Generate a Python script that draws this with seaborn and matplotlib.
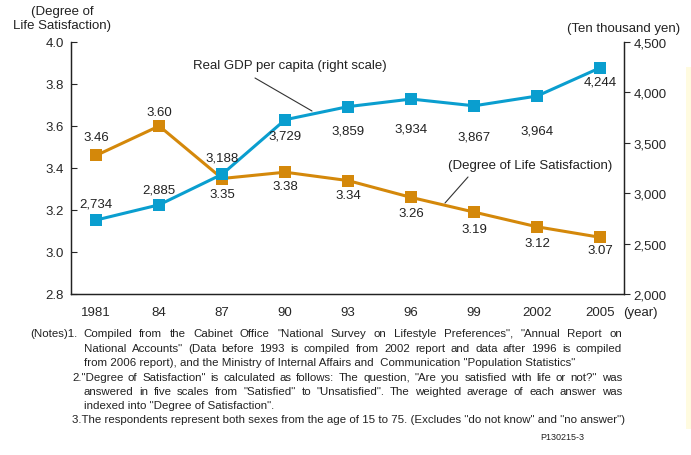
import pandas as pd
import numpy as np
import seaborn as sns
import matplotlib.pyplot as plt
from matplotlib.patches import Rectangle

years=['1981','84','87','90','93','96','99','2002','2005']
satisfaction=[3.46,3.60,3.35,3.38,3.34,3.26,3.19,3.12,3.07]
gdp=[2734,2885,3188,3729,3859,3934,3867,3964,4244]
sat_ticks=[2.8,3.0,3.2,3.4,3.6,3.8,4.0]
gdp_ticks=[2000,2500,3000,3500,4000,4500]

notes=[
    '(Notes)1.',
    'Compiled from the Cabinet Office "National Survey on Lifestyle Preferences", "Annual  Report on',
    'National Accounts" (Data before 1993 is compiled from 2002 report and data after 1996 is compiled',
    'from 2006 report), and the Ministry of Internal Affairs and  Communication "Population Statistics"',
    '2."Degree of Satisfaction" is calculated as follows: The question, "Are you satisfied with life or not?" was',
    'answered in five scales from "Satisfied" to "Unsatisfied". The weighted average of each answer was',
    'indexed into "Degree of Satisfaction".',
    '3.The respondents represent both sexes from the age of 15 to 75. (Excludes "do not know" and "no answer")',
]

orange='#D4880A'
blue='#0A9ECF'
W,H=691,456

sns.set_style('white')
plt.rcParams['font.family']=['Liberation Sans','DejaVu Sans']

df=pd.DataFrame({'year':years,'satisfaction':satisfaction,'gdp':gdp})

fig=plt.figure(figsize=(6.91,4.56),dpi=100)
ax=fig.add_axes([71/W,161/H,553/W,252/H])
ax2=ax.twinx()

sns.lineplot(data=df,x='year',y='satisfaction',ax=ax,color=orange,lw=2.2,
             marker='s',markersize=9,markeredgewidth=0,sort=False)
sns.lineplot(data=df,x='year',y='gdp',ax=ax2,color=blue,lw=2.2,
             marker='s',markersize=9,markeredgewidth=0,sort=False)

ax.set_xlim(-0.4,8.38)
ax.set_ylim(2.8,4.0)
ax2.set_ylim(2000,4500)
ax.set_yticks(sat_ticks)
ax.set_yticklabels([f'{v:.1f}' for v in sat_ticks],fontsize=9.5)
ax2.set_yticks(gdp_ticks)
ax2.set_yticklabels([f'{v:,}' for v in gdp_ticks],fontsize=9.5)
ax.set_xticks(range(len(years)))
ax.set_xticklabels(years,fontsize=9.5)
ax.set_xticks(np.arange(0.5,len(years)-0.5,1),minor=True)
ax.tick_params(axis='x',which='major',length=0,pad=9)
ax.tick_params(axis='x',which='minor',length=4,direction='in',width=0.8)
ax.tick_params(axis='y',length=4,direction='in',width=0.8,pad=5)
ax2.tick_params(axis='y',length=4,direction='out',width=0.8,pad=3)
ax.set_xlabel('')
ax.set_ylabel('')
ax2.set_ylabel('')
for a in (ax,ax2):
    a.spines['top'].set_visible(False)
    for s in ('left','right','bottom'):
        a.spines[s].set_color('#222222')
        a.spines[s].set_linewidth(0.9)

# data labels
sat_off=[(0,18),(0,14),(0,-16),(0,-14),(0,-14),(0,-16),(0,-17),(0,-16),(0,-13)]
gdp_off=[(0,17),(0,15),(0,17),(0,-16),(0,-24),(0,-29),(0,-31),(0,-34),(0,-14)]
for i,(v,o) in enumerate(zip(satisfaction,sat_off)):
    ax.annotate(f'{v:.2f}',(i,v),xytext=o,textcoords='offset pixels',
                ha='center',va='center',fontsize=9.5,color='#222222')
for i,(v,o) in enumerate(zip(gdp,gdp_off)):
    ax2.annotate(f'{v:,}',(i,v),xytext=o,textcoords='offset pixels',
                 ha='center',va='center',fontsize=9.5,color='#222222')

# series callouts
fig.text(290/W,1-66/H,'Real GDP per capita (right scale)',ha='center',va='center',fontsize=9.5,color='#222222')
fig.add_artist(plt.Line2D([255/W,312/W],[1-79/H,1-112/H],color='#333333',lw=0.8))
fig.text(530/W,1-166/H,'(Degree of Life Satisfaction)',ha='center',va='center',fontsize=9.5,color='#222222')
fig.add_artist(plt.Line2D([468/W,445/W],[1-178/H,1-204/H],color='#333333',lw=0.8))

# axis titles
fig.text(62/W,1-12/H,'(Degree of',ha='center',va='center',fontsize=9.5,color='#222222')
fig.text(62/W,1-26/H,'Life Satisfaction)',ha='center',va='center',fontsize=9.5,color='#222222')
fig.text(680/W,1-29/H,'(Ten thousand yen)',ha='right',va='center',fontsize=9.5,color='#222222')
fig.text(623/W,1-313/H,'(year)',ha='left',va='center',fontsize=9.5,color='#222222')

# notes, some lines justified like the original
renderer=fig.canvas.get_renderer()
def note_line(x0,y,text,x1=None,size=8.25):
    if x1 is None:
        fig.text(x0/W,1-y/H,text,ha='left',va='center',fontsize=size,color='#222222')
        return
    words=text.split()
    objs=[fig.text(0,1-y/H,w,ha='left',va='center',fontsize=size,color='#222222') for w in words]
    widths=[o.get_window_extent(renderer).width for o in objs]
    gap=(x1-x0-sum(widths))/(len(words)-1)
    pos=x0
    for o,w in zip(objs,widths):
        o.set_x(pos/W)
        pos+=w+gap

ys=[334,349,363,378,392,406,420]
note_line(30,ys[0],notes[0])
note_line(83,ys[0],notes[1],622)
note_line(84,ys[1],notes[2],622)
note_line(84,ys[2],notes[3])
note_line(72,ys[3],notes[4],622)
note_line(84,ys[4],notes[5],622)
note_line(84,ys[5],notes[6])
note_line(72,ys[6],notes[7])
fig.text(562/W,1-438/H,'P130215-3',ha='center',va='center',fontsize=6.5,color='#222222')

# pale strip on right edge
fig.add_artist(Rectangle((686/W,1-430/H),5/W,362/H,transform=fig.transFigure,
                         facecolor='#FFFBE0',edgecolor='none'))

fig.savefig('out.png',dpi=100)
